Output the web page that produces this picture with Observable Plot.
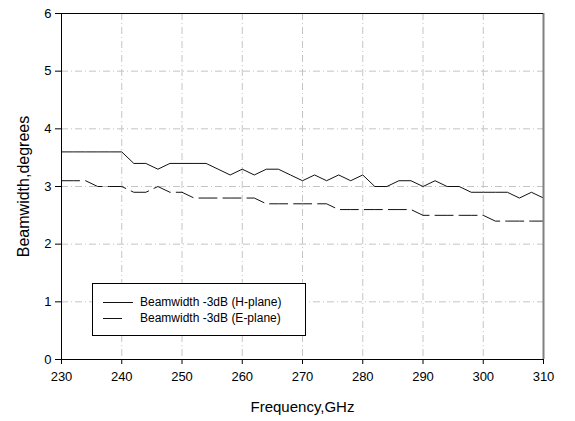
<!DOCTYPE html>
<html>
<head>
<meta charset="utf-8">
<script src="https://cdn.jsdelivr.net/npm/d3@7"></script>
<script src="https://cdn.jsdelivr.net/npm/@observablehq/plot@0.6"></script>
<style>
  html, body { margin: 0; padding: 0; background: #fff; }
  #wrap { position: relative; width: 575px; height: 421px; font-family: "Liberation Sans", Arial, sans-serif; }
  #legend { position: absolute; left: 92px; top: 283px; width: 214px; height: 53px; border: 1px solid #000; background: #fff; box-sizing: border-box; font-size: 12px; color: #000; }
  .row { position: absolute; left: 0; height: 14px; line-height: 14px; white-space: nowrap; }
  .row svg { position: absolute; left: 10px; top: 0; }
  .row span { position: absolute; left: 47px; top: 0; }
</style>
</head>
<body>
<div id="wrap"></div>
<script>
const freq = [230,232,234,236,238,240,242,244,246,248,250,252,254,256,258,260,262,264,266,268,270,272,274,276,278,280,282,284,286,288,290,292,294,296,298,300,302,304,306,308,310];
const hPlane = [3.6,3.6,3.6,3.6,3.6,3.6,3.4,3.4,3.3,3.4,3.4,3.4,3.4,3.3,3.2,3.3,3.2,3.3,3.3,3.2,3.1,3.2,3.1,3.2,3.1,3.2,3.0,3.0,3.1,3.1,3.0,3.1,3.0,3.0,2.9,2.9,2.9,2.9,2.8,2.9,2.8];
const ePlane = [3.1,3.1,3.1,3.0,3.0,3.0,2.9,2.9,3.0,2.9,2.9,2.8,2.8,2.8,2.8,2.8,2.8,2.7,2.7,2.7,2.7,2.7,2.7,2.6,2.6,2.6,2.6,2.6,2.6,2.6,2.5,2.5,2.5,2.5,2.5,2.5,2.4,2.4,2.4,2.4,2.4];
const xTicks = [230,240,250,260,270,280,290,300,310];
const yTicks = [0,1,2,3,4,5,6];
const seriesNames = ["Beamwidth -3dB (H-plane)", "Beamwidth -3dB (E-plane)"];
const xLabel = "Frequency,GHz";
const yLabel = "Beamwidth,degrees";

const hData = freq.map((f, i) => ({f, v: hPlane[i]}));
const eData = freq.map((f, i) => ({f, v: ePlane[i]}));
const gridDash = "7,3,1,3";
const gridColor = "#c4c4c4";

const chart = Plot.plot({
  width: 575,
  height: 421,
  marginLeft: 61,
  marginRight: 32,
  marginTop: 13,
  marginBottom: 62,
  style: { fontFamily: "'Liberation Sans', Arial, sans-serif", fontSize: "13px", background: "#fff", color: "#000" },
  x: { domain: [230, 310], ticks: xTicks, tickSize: 5, tickPadding: 7, tickFormat: d3.format("d"),
       label: xLabel, labelAnchor: "center", labelOffset: 52 },
  y: { domain: [0, 6], ticks: yTicks, tickSize: 6, tickPadding: 4, tickFormat: d3.format("d"),
       label: yLabel, labelAnchor: "center", labelOffset: 44 },
  marks: [
    Plot.ruleX(xTicks.slice(1, -1), { stroke: gridColor, strokeDasharray: gridDash, strokeWidth: 1 }),
    Plot.ruleY(yTicks.slice(1, -1), { stroke: gridColor, strokeDasharray: gridDash, strokeWidth: 1 }),
    Plot.line(eData, { x: "f", y: "v", stroke: "#111", strokeWidth: 1, strokeDasharray: "18,6" }),
    Plot.line(hData, { x: "f", y: "v", stroke: "#111", strokeWidth: 1 }),
    Plot.ruleX([310], { stroke: "#808080", strokeWidth: 2 }),
    Plot.ruleY([6], { stroke: "#000", strokeWidth: 1 }),
    Plot.ruleX([230], { stroke: "#000", strokeWidth: 1 }),
    Plot.ruleY([0], { stroke: "#000", strokeWidth: 1 })
  ]
});
chart.querySelectorAll("text").forEach(t => {
  const s = t.textContent;
  if (s.includes(xLabel) || s.includes(yLabel)) {
    const clean = s.includes(xLabel) ? xLabel : yLabel;
    t.textContent = clean;
    t.style.fontSize = s.includes(yLabel) ? "16px" : "15px";
  }
});
const wrap = document.getElementById("wrap");
wrap.appendChild(chart);

const legend = document.createElement("div");
legend.id = "legend";
seriesNames.forEach((name, i) => {
  const row = document.createElement("div");
  row.className = "row";
  row.style.top = (11 + i * 16) + "px";
  row.innerHTML = `<svg width="32" height="14"><line x1="0" x2="${i === 0 ? 30 : 19}" y1="7.5" y2="7.5" stroke="#111" stroke-width="1"/></svg><span>${name}</span>`;
  legend.appendChild(row);
});
wrap.appendChild(legend);
</script>
</body>
</html>
